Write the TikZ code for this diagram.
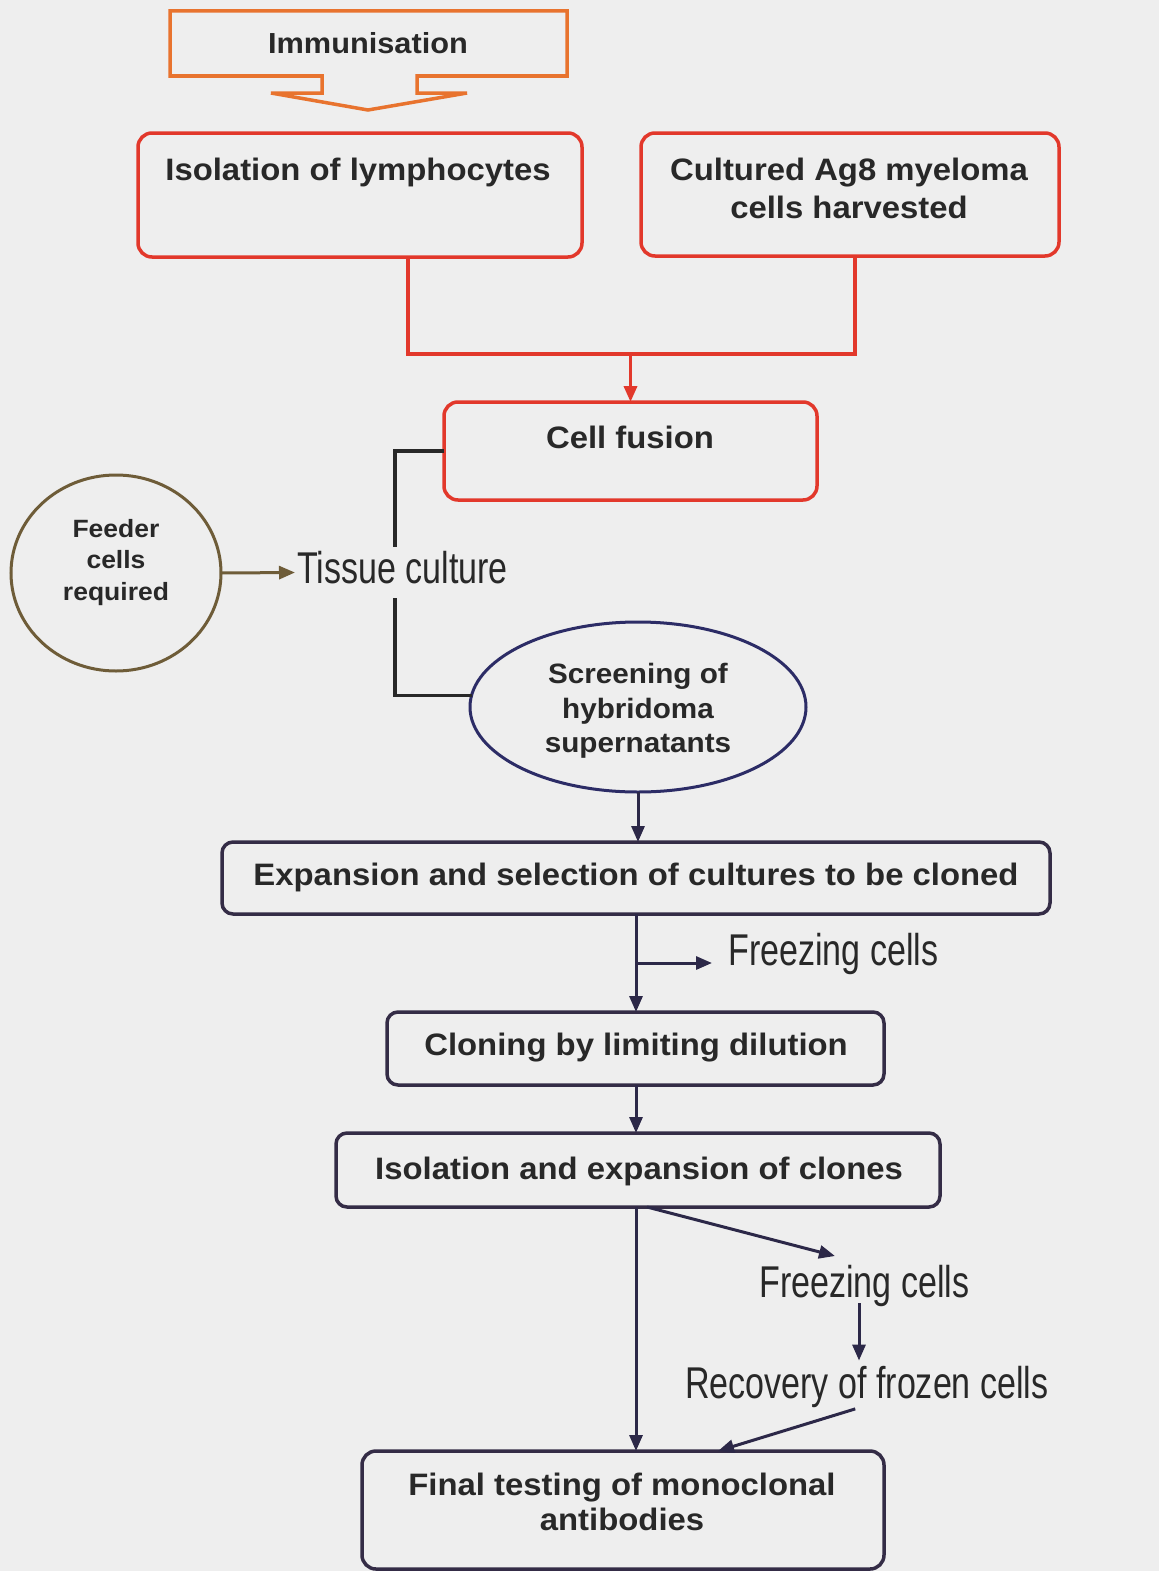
\documentclass[tikz,border=0pt]{standalone}
\usepackage{fontspec}
\setmainfont{Liberation Sans}
\newfontfamily\labelbold[FakeStretch=1.06]{Liberation Sans Bold}
\newfontfamily\labelnarrow[FakeStretch=0.765]{Liberation Sans}
\usetikzlibrary{arrows.meta,calc,shapes.geometric}

\definecolor{paper}{RGB}{238,238,238}
\definecolor{inkorange}{RGB}{232,115,46}
\definecolor{inkred}{RGB}{226,56,43}
\definecolor{inkolive}{RGB}{110,92,56}
\definecolor{inknavy}{RGB}{44,44,102}
\definecolor{inkdark}{RGB}{52,44,70}
\definecolor{inkline}{RGB}{44,40,72}
\definecolor{inkblack}{RGB}{40,40,40}
\definecolor{inktext}{RGB}{40,40,40}

\begin{document}
\begin{tikzpicture}[x=1pt,y=-1pt,
  box/.style={draw, line width=3.5pt, anchor=north west, inner sep=0pt, outer sep=0pt},
  redbox/.style={box, draw=inkred, rounded corners=14pt},
  darkbox/.style={box, draw=inkdark, rounded corners=11pt},
  boldtxt/.style={anchor=base, inner sep=0pt, text=inktext,
    font=\labelbold\fontsize{31pt}{36pt}\selectfont},
  smallbold/.style={boldtxt, font=\labelbold\fontsize{25pt}{30pt}\selectfont},
  midbold/.style={boldtxt, font=\labelbold\fontsize{28pt}{33pt}\selectfont},
  plaintxt/.style={anchor=base west, inner sep=0pt, text=inktext,
    font=\labelnarrow\fontsize{44.5pt}{50pt}\selectfont},
  tip/.style={-{Triangle[length=16pt,width=13pt]}},
  redline/.style={draw=inkred, line width=3.5pt},
  darkline/.style={draw=inkline, line width=3pt},
  blackline/.style={draw=inkblack, line width=3.5pt},
]
% page
\fill[paper] (0,0) rectangle (1159,1571);
\useasboundingbox (0,0) rectangle (1159,1571);

% Immunisation: box with a block arrow underneath
\draw[inkorange, line width=3.5pt, line join=miter]
  (170,76) -- (170,11) -- (567,11) -- (567,76) -- (417,76) -- (417,93)
  -- (467,93) -- (368,110) -- (271,93) -- (322,93) -- (322,76) -- cycle;
\node[boldtxt, font=\labelbold\fontsize{29pt}{34pt}\selectfont] (imm) at (368,54) {Immunisation};

% upper red boxes
\node[redbox, minimum width=444pt, minimum height=124pt] (iso) at (138,133) {};
\node[boldtxt] (isot) at (358,180) {Isolation of lymphocytes};
\node[redbox, minimum width=418pt, minimum height=123pt] (cult) at (641,133) {};
\node[boldtxt] (cult1) at (849,180) {Cultured Ag8 myeloma};
\node[boldtxt] (cult2) at (849,218) {cells harvested};

\node[redbox, minimum width=373pt, minimum height=98pt] (fus) at (444,402) {};
\node[boldtxt] (fust) at (630,448) {Cell fusion};

% joining the two sources into cell fusion
\coordinate (ja) at (408,354);
\coordinate (jb) at (855,354);
\coordinate (jm) at (630.5,354);
\draw[redline, line join=miter] (iso.south -| ja) -- (ja) -- (jb) -- (cult.south -| jb);
\draw[redline, tip] (jm) -- (jm |- fus.north);

% feeder cells and tissue culture
\node[draw=inkolive, line width=3pt, ellipse, minimum width=210pt,
      minimum height=196pt, inner sep=0pt, outer sep=0pt] (feed) at (116,573) {};
\node[smallbold] (feed1) at (116,537) {Feeder};
\node[smallbold] (feed2) at (116,568) {cells};
\node[smallbold] (feed3) at (116,600) {required};

\node[plaintxt, text height=36pt, text depth=15pt] (tc) at (297,583) {Tissue culture};
\draw[draw=inkolive, line width=3pt, tip, shorten >=2pt] (feed.east) -- (tc.west);

% screening ellipse
\node[draw=inknavy, line width=3pt, ellipse, minimum width=336pt,
      minimum height=170pt, inner sep=0pt, outer sep=0pt] (scr) at (638,707) {};
\node[midbold] (scr1) at (638,683) {Screening of};
\node[midbold] (scr2) at (638,718) {hybridoma};
\node[midbold] (scr3) at (638,752) {supernatants};

% bracket from cell fusion to screening, broken by the tissue culture label
\coordinate (bk1) at (395,547);
\coordinate (bk2) at (395,598);
\draw[blackline, line join=miter] (fus.west) -- (fus.west -| bk1) -- (bk1);
\draw[blackline, line join=miter] (bk2) |- (scr.176);

% lower boxes
\node[darkbox, minimum width=828pt, minimum height=72pt] (exp) at (222,842) {};
\node[boldtxt] (expt) at (636,885) {Expansion and selection of cultures to be cloned};
\node[darkbox, minimum width=497pt, minimum height=73pt] (clo) at (387,1012) {};
\node[boldtxt] (clot) at (636,1055) {Cloning by limiting dilution};
\node[darkbox, minimum width=604pt, minimum height=74pt] (isx) at (336,1133) {};
\node[boldtxt] (isxt) at (639,1179) {Isolation and expansion of clones};
\node[darkbox, rounded corners=14pt, minimum width=522pt, minimum height=118pt] (fin) at (362,1451) {};
\node[boldtxt] (fin1) at (622,1495) {Final testing of monoclonal};
\node[boldtxt] (fin2) at (622,1530) {antibodies};

% side labels
\node[plaintxt] (fr1) at (728,965) {Freezing cells};
\node[plaintxt] (fr2) at (759,1297) {Freezing cells};
\node[plaintxt] (rec) at (685,1398) {Recovery of frozen cells};

% main flow
\coordinate (mx) at (636,0);
\draw[darkline, tip] (scr.south) -- (scr.south |- exp.north);
\draw[darkline, tip] (exp.south -| mx) -- (mx |- clo.north);
\coordinate (brj) at (636,963);
\coordinate (fr1tip) at (712,963);
\draw[darkline, tip] (brj) -- (fr1tip);
\draw[darkline, tip] (clo.south -| mx) -- (mx |- isx.north);
\draw[darkline, tip] (isx.south -| mx) -- (mx |- fin.north);

% freezing and recovery branch
\coordinate (fr2tip) at (835,1256);
\draw[darkline, tip] ($(isx.south -| mx)+(11,0)$) -- (fr2tip);
\draw[darkline, tip, shorten <=-3pt, shorten >=5pt] (fr2.south -| 859,0) -- (rec.north -| 859,0);
\coordinate (fintip) at ($(fin.north)+(95,0)$);
\draw[darkline, tip, shorten <=5pt] (rec.south -| 860,0) -- (fintip);
\end{tikzpicture}
\end{document}
